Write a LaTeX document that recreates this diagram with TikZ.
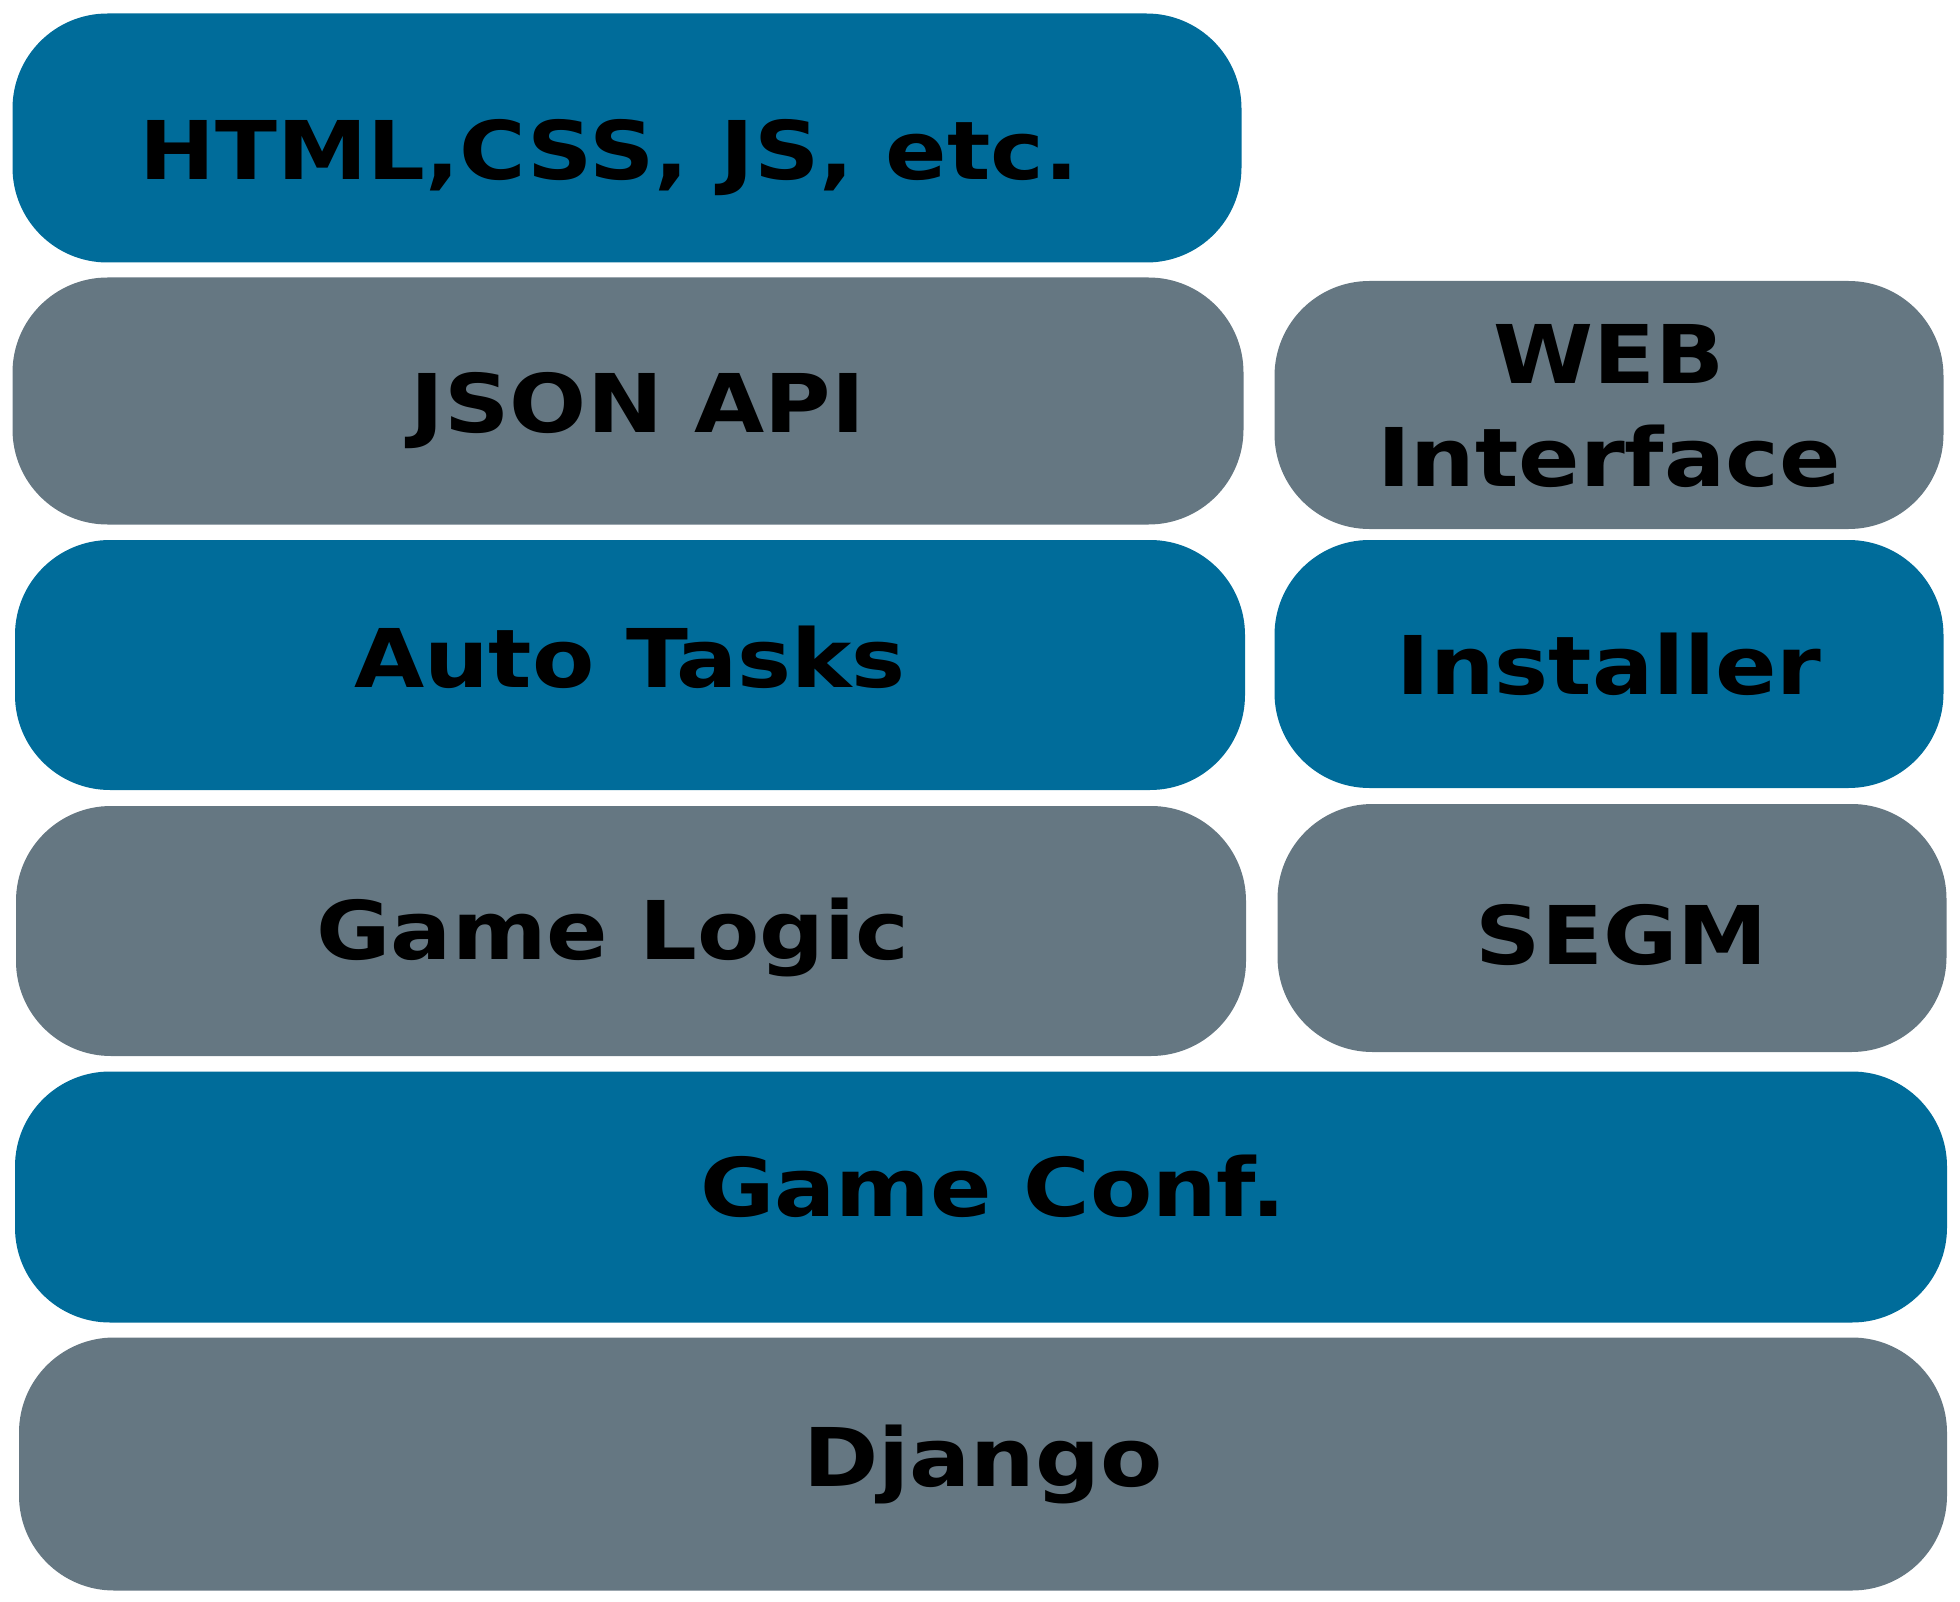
\documentclass[tikz,border=0pt]{standalone}
\usepackage{fontspec}
\setmainfont{DejaVu Sans}[FakeStretch=1.12]
\usepackage{tikz}
\usetikzlibrary{shapes,positioning}
\definecolor{layerblue}{HTML}{006C9A}
\definecolor{layergrey}{HTML}{657782}
\tikzset{layer/.style = {rectangle, rounded corners=95pt, inner sep=0pt,
                         font=\fontsize{81}{103}\selectfont\bfseries,
                         text height=59pt, text depth=0pt,
                         align=center, text=black}}
\tikzset{bluelayer/.style = {layer, fill=layerblue}}
\tikzset{greylayer/.style = {layer, fill=layergrey}}

\begin{document}
\begin{tikzpicture}[x=1pt,y=-1pt]
  \useasboundingbox (0,0) rectangle (1960,1602);
  \node[bluelayer, minimum width=1229pt, minimum height=249pt, text height=84pt] (html) at (627,138) {HTML,CSS, JS, etc.\hspace{36pt}};
  \node[greylayer, minimum width=1231pt, minimum height=247pt, text height=63pt] (json) at (628,401) {\hspace{20pt}JSON API};
  \node[greylayer, minimum width=669pt, minimum height=248pt, text height=162pt] (web) at (1609,405) {WEB\\Interface};
  \node[bluelayer, minimum width=1230pt, minimum height=250pt, text height=45pt] (auto) at (630,665) {Auto Tasks};
  \node[bluelayer, minimum width=669pt, minimum height=248pt, text height=60pt] (inst) at (1609,664) {Installer};
  \node[greylayer, minimum width=1230pt, minimum height=250pt, text height=56pt] (logic) at (631,931) {Game Logic\hspace{36pt}};
  \node[greylayer, minimum width=669pt, minimum height=248pt, text height=72pt] (segm) at (1612,928) {\hspace{20pt}SEGM};
  \node[bluelayer, minimum width=1932pt, minimum height=251pt, text height=38pt] (conf) at (981,1197) {\hspace{24pt}Game Conf.};
  \node[greylayer, minimum width=1928pt, minimum height=253pt, text height=44pt] (django) at (983,1464) {Django};
\end{tikzpicture}
\end{document}
